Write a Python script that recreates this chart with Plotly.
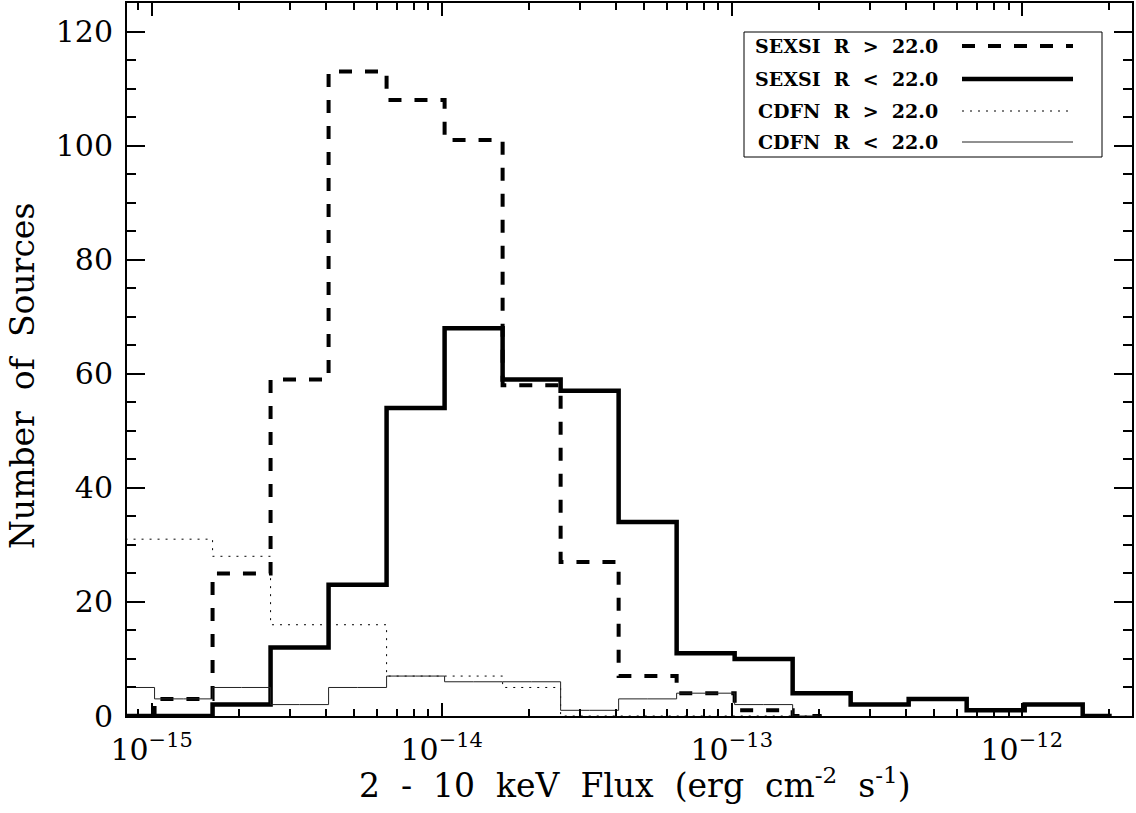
import plotly.graph_objects as go

# ---- data ----
# histogram bin centres, log10 of 2-10 keV flux (erg cm^-2 s^-1)
bin_centers_log = [-15.09, -14.89, -14.69, -14.49, -14.29, -14.09, -13.89, -13.69,
                   -13.49, -13.29, -13.09, -12.89, -12.69, -12.49, -12.29, -12.09,
                   -11.89, -11.69]
sexsi_faint = [0, 3, 25, 59, 113, 108, 101, 58, 27, 7, 4, 1, 0]          # R > 22.0
sexsi_bright = [0, 0, 2, 12, 23, 54, 68, 59, 57, 34, 11, 10, 4, 2, 3, 1, 2, 0]  # R < 22.0
cdfn_faint = [31, 31, 28, 16, 16, 7, 7, 5, 0, 0, 0, 0, 0]               # R > 22.0
cdfn_bright = [5, 3, 5, 2, 5, 7, 6, 6, 1, 3, 4, 2, 0]                   # R < 22.0

x_tick_vals = [1e-15, 1e-14, 1e-13, 1e-12]
x_tick_text = ["10<sup>\u221215</sup>", "10<sup>\u221214</sup>",
               "10<sup>\u221213</sup>", "10<sup>\u221212</sup>"]
y_tick_vals = [0, 20, 40, 60, 80, 100, 120]

NB = "\u00a0"
legend_labels = ["SEXSI" + NB * 2 + "R" + NB * 2 + "&gt;" + NB * 2 + "22.0",
                 "SEXSI" + NB * 2 + "R" + NB * 2 + "&lt;" + NB * 2 + "22.0",
                 "CDFN" + NB * 2 + "R" + NB * 2 + "&gt;" + NB * 2 + "22.0",
                 "CDFN" + NB * 2 + "R" + NB * 2 + "&lt;" + NB * 2 + "22.0"]
x_title = NB.join(["2", "", "-", "", "10", "", "keV", "", "Flux", "",
                   "(erg", "", "cm<sup>-2</sup>", "", "s<sup>-1</sup>)"])
y_title = NB.join(["Number", "", "of", "", "Sources"])

# ---- figure geometry ----
W, H = 1136, 813
L, R, T, B = 127, 1132, 3, 716
FONT = "DejaVu Serif"


def px(x):
    return (x - L) / (R - L)


def py(y):
    return (B - y) / (B - T)


series = [
    (sexsi_faint, dict(color="black", width=4, dash="13px,13px")),
    (sexsi_bright, dict(color="black", width=4.5)),
    (cdfn_faint, dict(color="black", width=1, dash="2px,6px")),
    (cdfn_bright, dict(color="#222222", width=1)),
]

fig = go.Figure()
for counts, line in series:
    xs = [10 ** v for v in bin_centers_log[:len(counts)]]
    fig.add_trace(go.Scatter(x=xs, y=counts, mode="lines", line_shape="hvh",
                             line=line, showlegend=False, hoverinfo="skip"))

minor_x = [m * 10 ** e for e in range(-16, -11) for m in range(2, 10)]

fig.update_xaxes(
    type="log", range=[-15.085, -11.62], automargin=False,
    tickvals=x_tick_vals, ticktext=x_tick_text,
    ticks="inside", ticklen=13, tickwidth=2, tickcolor="black",
    minor=dict(tickvals=minor_x, ticks="inside", ticklen=7, tickwidth=2, tickcolor="black"),
    showline=True, linewidth=2, linecolor="black", mirror="ticks",
    showgrid=False, zeroline=False,
    tickfont=dict(family=FONT, size=30, color="black"),
    ticklabelstandoff=6,
)
fig.update_yaxes(
    range=[0, 125], tickvals=y_tick_vals, automargin=False,
    ticks="inside", ticklen=18, tickwidth=2, tickcolor="black",
    minor=dict(dtick=5, ticks="inside", ticklen=9, tickwidth=2, tickcolor="black"),
    showline=True, linewidth=2, linecolor="black", mirror="ticks",
    showgrid=False, zeroline=False,
    tickfont=dict(family=FONT, size=30, color="black"),
    ticklabelstandoff=6,
)

annotations = [
    dict(text=x_title,
         x=px(635), y=py(783), xref="paper", yref="paper", showarrow=False,
         xanchor="center", yanchor="middle",
         font=dict(family=FONT, size=33, color="black")),
    dict(text=y_title, textangle=-90,
         x=px(22), y=py(376), xref="paper", yref="paper", showarrow=False,
         xanchor="center", yanchor="middle",
         font=dict(family=FONT, size=33, color="black")),
]

shapes = [dict(type="rect", xref="paper", yref="paper",
               x0=px(744), x1=px(1102), y0=py(157), y1=py(32),
               line=dict(color="black", width=1), fillcolor="white", layer="above")]

legend_rows_y = [46, 79, 111, 142]
for (label, (_, line)), ry in zip(zip(legend_labels, series), legend_rows_y):
    annotations.append(dict(text="<b>" + label + "</b>", x=px(940), y=py(ry),
                            xref="paper", yref="paper", showarrow=False,
                            xanchor="right", yanchor="middle",
                            font=dict(family=FONT, size=19, color="black")))
    shapes.append(dict(type="line", xref="paper", yref="paper",
                       x0=px(962), x1=px(1073), y0=py(ry), y1=py(ry),
                       line=line, layer="above"))

fig.update_layout(
    width=W, height=H,
    margin=dict(l=L, r=W - R, t=T, b=H - B),
    paper_bgcolor="white", plot_bgcolor="white",
    annotations=annotations, shapes=shapes,
    showlegend=False,
)

fig.write_html(
    "out.html",
    config={"displayModeBar": False},
    post_script="document.body.style.margin='0';document.body.style.padding='0';"
                "document.body.style.overflow='hidden';",
)
